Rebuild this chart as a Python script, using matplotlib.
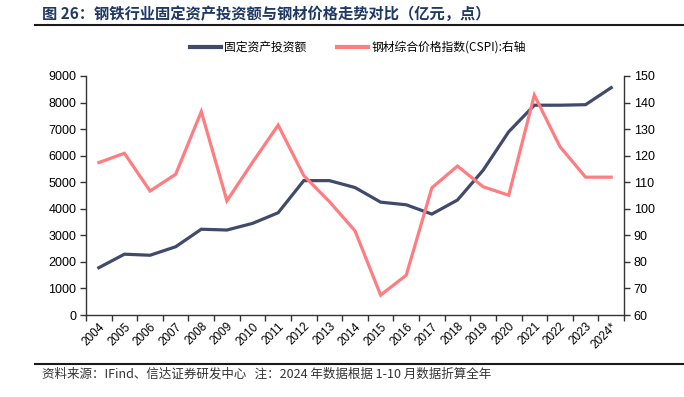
import matplotlib
matplotlib.use("Agg")
import matplotlib.pyplot as plt
from matplotlib.lines import Line2D
import numpy as np

plt.rcParams['font.family'] = ['Liberation Sans', 'Noto Sans CJK SC', 'DejaVu Sans']

years = ["2004", "2005", "2006", "2007", "2008", "2009", "2010", "2011", "2012", "2013",
         "2014", "2015", "2016", "2017", "2018", "2019", "2020", "2021", "2022", "2023", "2024*"]
investment = [1780, 2290, 2250, 2570, 3230, 3200, 3450, 3850, 5060, 5060,
              4800, 4250, 4150, 3800, 4330, 5450, 6900, 7900, 7900, 7920, 8560]
cspi = [117.4, 120.9, 106.7, 113.0, 136.6, 103.0, 117.5, 131.5, 112.5, 102.7,
        91.7, 67.5, 75.0, 107.9, 116.1, 108.3, 105.1, 142.8, 123.4, 111.9, 111.9]
left_ticks = [0, 1000, 2000, 3000, 4000, 5000, 6000, 7000, 8000, 9000]
right_ticks = [60, 70, 80, 90, 100, 110, 120, 130, 140, 150]

navy = '#404A6B'
red = '#FF7C80'

W, H = 684, 397
fig = plt.figure(figsize=(W / 100, H / 100), dpi=100)
ax = fig.add_axes([86 / W, 1 - 315 / H, (624 - 86) / W, (315 - 76) / H])
ax2 = ax.twinx()

x = np.arange(len(years))
ax.plot(x, investment, color=navy, lw=2.3, solid_joinstyle='miter', zorder=3)
ax2.plot(x, cspi, color=red, lw=2.3, solid_joinstyle='miter', zorder=3)

ax.set_xlim(-0.5, len(years) - 0.5)
ax.set_ylim(0, 9000)
ax2.set_ylim(60, 150)
ax.set_yticks(left_ticks)
ax.set_yticklabels([str(v) for v in left_ticks])
ax2.set_yticks(right_ticks)
ax2.set_yticklabels([str(v) for v in right_ticks])

ax.set_xticks(np.arange(len(years) + 1) - 0.5)
ax.set_xticklabels([])
ax.set_xticks(x, minor=True)
ax.set_xticklabels(years, minor=True, rotation=45, ha='right', va='top',
                   rotation_mode='anchor', fontsize=8.5)
ax.tick_params(axis='x', which='minor', length=0, pad=4)
ax.tick_params(axis='x', which='major', length=4, width=1, direction='out', color='#333333')

for a in (ax, ax2):
    a.spines['top'].set_visible(False)
    for s in ('left', 'right', 'bottom'):
        a.spines[s].set_color('#333333')
        a.spines[s].set_linewidth(1)
ax.spines['right'].set_visible(False)
ax2.spines['left'].set_visible(False)
ax2.spines['bottom'].set_visible(False)
ax.tick_params(axis='y', length=4, width=1, direction='out', labelsize=9, pad=3, color='#333333')
ax2.tick_params(axis='y', length=4, width=1, direction='out', labelsize=9, pad=3, color='#333333')

# Title
fig.text(42 / W, 1 - 14 / H, "图 26：钢铁行业固定资产投资额与钢材价格走势对比（亿元，点）",
         fontsize=11, fontweight='bold', color='#1F3864', va='center', ha='left',
         family=['Noto Sans CJK SC', 'DejaVu Sans'])
fig.add_artist(Line2D([35 / W, 1.0], [1 - 24.5 / H, 1 - 24.5 / H], color='#1a1a1a', lw=1.5))

# Footer
fig.add_artist(Line2D([35 / W, 1.0], [1 - 364 / H, 1 - 364 / H], color='#1a1a1a', lw=1.5))
fig.text(42 / W, 1 - 374 / H, "资料来源：IFind、信达证券研发中心   注：2024 年数据根据 1-10 月数据折算全年",
         fontsize=9, color='#333333', va='center', ha='left', style='italic',
         family=['Noto Sans CJK SC', 'DejaVu Sans'])

# Legend
handles = [Line2D([], [], color=navy, lw=3), Line2D([], [], color=red, lw=3)]
labels = ["固定资产投资额", "钢材综合价格指数(CSPI):右轴"]
fig.legend(handles, labels, loc='center', bbox_to_anchor=(358 / W, 1 - 47.5 / H),
           ncol=2, frameon=False, handlelength=2.6, handletextpad=0.3,
           columnspacing=2.6, prop={'family': ['Noto Sans CJK SC', 'DejaVu Sans'], 'size': 8.5})

fig.savefig('out.png', dpi=100)
